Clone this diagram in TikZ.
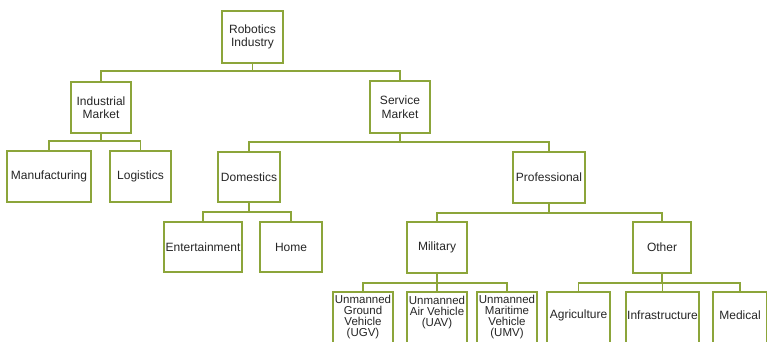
\documentclass[tikz,border=0pt]{standalone}
\usepackage{fontspec}
\setmainfont{Liberation Sans}
\definecolor{olive}{HTML}{8CA53A}
\definecolor{txt}{HTML}{262626}
\begin{document}
\begin{tikzpicture}[x=1pt,y=-1pt,
  box/.style={draw=olive,line width=2.6pt,fill=white,inner sep=1pt,align=center,
    font=\fontsize{12}{13.5}\selectfont,text=txt},
  lowbox/.style={inner sep=0pt,align=center,font=\fontsize{11.5}{11}\selectfont,text=txt,
    minimum height=49,anchor=north},
  frame/.style={draw=olive,line width=2.6pt},
  link/.style={draw=olive,line width=1.8pt}]
\clip (0,0) rectangle (767,341);
\fill[white] (0,0) rectangle (767,341);
\node[box,minimum width=61,minimum height=52] (RI) at (252.5,37) {Robotics\\Industry};
\node[box,minimum width=60,minimum height=51] (IM) at (101,107.5) {Industrial\\Market};
\node[box,minimum width=60,minimum height=52] (SM) at (400,107) {Service\\Market};
\node[box,minimum width=84,minimum height=51] (MA) at (49,176.5) {Manufacturing};
\node[box,minimum width=61,minimum height=51] (LO) at (140.5,176.5) {Logistics};
\node[box,minimum width=62,minimum height=50] (DO) at (249,177) {Domestics};
\node[box,minimum width=72,minimum height=51] (PR) at (549,177.5) {Professional};
\node[box,minimum width=78,minimum height=50] (EN) at (203,247) {Entertainment};
\node[box,minimum width=62,minimum height=50] (HO) at (291,247) {Home};
\node[box,minimum width=60,minimum height=51] (MI) at (437,247.5) {Military};
\node[box,minimum width=58,minimum height=51] (OT) at (662,247.5) {Other};
% bottom row (boxes run past the lower edge)
\foreach \x/\w in {363/60,437/60,507/60,578.5/63,662.5/73,740/54}{
  \fill[white] (\x-\w/2,292) rectangle (\x+\w/2,370);
  \draw[frame] (\x-\w/2,370) -- (\x-\w/2,292) -- (\x+\w/2,292) -- (\x+\w/2,370);
}
\node[lowbox,minimum width=60] (UG) at (363,292) {Unmanned\\Ground\\Vehicle\\(UGV)};
\node[lowbox,minimum width=60] (UA) at (437,292) {Unmanned\\Air Vehicle\\(UAV)\\\mbox{}};
\node[lowbox,minimum width=60] (UM) at (507,292) {Unmanned\\Maritime\\Vehicle\\(UMV)};
\node[lowbox,minimum width=63,minimum height=46,font=\fontsize{12}{13}\selectfont] (AG) at (578.5,292) {Agriculture};
\node[lowbox,minimum width=73,minimum height=46,font=\fontsize{12}{13}\selectfont] (IN) at (662.5,292) {Infrastructure};
\node[lowbox,minimum width=54,minimum height=46,font=\fontsize{12}{13}\selectfont] (ME) at (740,292) {Medical};
% connectors
\draw[link] (RI.south) -- ++(0,7) -| (IM.north);
\draw[link] (RI.south) -- ++(0,7) -| (SM.north);
\draw[link] (IM.south) -- ++(0,7) -| (MA.north);
\draw[link] (IM.south) -- ++(0,7) -| (LO.north);
\draw[link] (SM.south) -- ++(0,8) -| (DO.north);
\draw[link] (SM.south) -- ++(0,8) -| (PR.north);
\draw[link] (DO.south) -- ++(0,9) -| (EN.north);
\draw[link] (DO.south) -- ++(0,9) -| (HO.north);
\draw[link] (PR.south) -- ++(0,9) -| (MI.north);
\draw[link] (PR.south) -- ++(0,9) -| (OT.north);
\draw[link] (MI.south) -- ++(0,9) -| (UG.north);
\draw[link] (MI.south) -- ++(0,9) -| (UA.north);
\draw[link] (MI.south) -- ++(0,9) -| (UM.north);
\draw[link] (OT.south) -- ++(0,9) -| (AG.north);
\draw[link] (OT.south) -- ++(0,9) -| (IN.north);
\draw[link] (OT.south) -- ++(0,9) -| (ME.north);
\end{tikzpicture}
\end{document}
